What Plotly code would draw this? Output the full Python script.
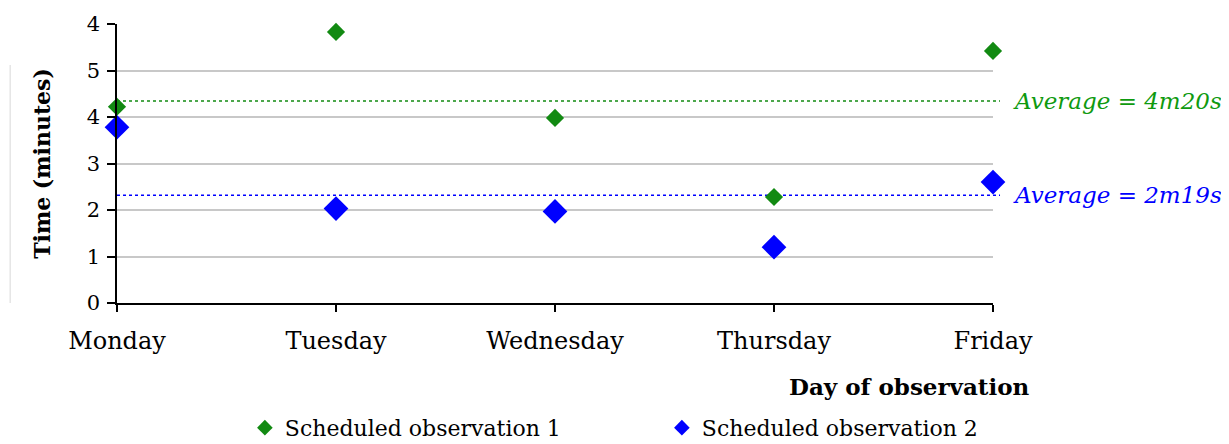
import plotly.graph_objects as go

days = ["Monday", "Tuesday", "Wednesday", "Thursday", "Friday"]
obs1 = [4.22, 5.83, 3.98, 2.28, 5.42]
obs2 = [3.78, 2.03, 1.97, 1.20, 2.60]
y_ticks = [0, 1, 2, 3, 4, 5, 6]
y_tick_labels = ["0", "1", "2", "3", "4", "5", "4"]
avg_labels = ["Average = 4m20s", "Average = 2m19s"]

GREEN = "#128a12"
GREEN_TXT = "#0f9a0f"
BLUE = "#0000ff"
FONT = "DejaVu Serif"

x = list(range(len(days)))
avg1 = sum(obs1) / len(obs1)
avg2 = sum(obs2) / len(obs2)

fig = go.Figure()
fig.add_trace(go.Scatter(x=x, y=obs1, mode="markers", name="Scheduled observation 1",
                         marker=dict(symbol="diamond", size=14, color=GREEN),
                         cliponaxis=False))
fig.add_trace(go.Scatter(x=x, y=obs2, mode="markers", name="Scheduled observation 2",
                         marker=dict(symbol="diamond", size=19, color=BLUE),
                         cliponaxis=False))

for avg, col, tcol, lab in [(avg1, GREEN, GREEN_TXT, avg_labels[0]), (avg2, BLUE, BLUE, avg_labels[1])]:
    fig.add_shape(type="line", xref="paper", yref="y", x0=0, x1=1.008, y0=avg, y1=avg,
                  line=dict(color=col, width=1.5, dash="dot"), layer="below")
    fig.add_annotation(xref="paper", yref="y", x=1.020, y=avg, text="<i>" + lab + "</i>",
                       showarrow=False, xanchor="left", yanchor="middle",
                       font=dict(family=FONT, size=23, color=tcol))

# faint vertical line at the left edge
fig.add_shape(type="line", xref="paper", yref="paper", x0=-0.122, x1=-0.122, y0=0.0, y1=0.853,
              line=dict(color="#d8d8d8", width=1))

fig.add_annotation(xref="paper", yref="paper", x=0.905, y=-0.30, text="<b>Day of observation</b>",
                   showarrow=False, xanchor="center", yanchor="middle",
                   font=dict(family=FONT, size=23, color="black"))

fig.update_layout(
    width=1221, height=436,
    margin=dict(l=109, r=236, t=16, b=141, autoexpand=False),
    paper_bgcolor="white", plot_bgcolor="white",
    font=dict(family=FONT, size=21, color="black"),
    showlegend=True,
    legend=dict(orientation="h", xref="container", yref="container",
                x=0.194, xanchor="left", y=0.037, yanchor="middle",
                font=dict(family=FONT, size=22), itemsizing="constant",
                traceorder="normal", entrywidth=372, entrywidthmode="pixels",
                itemwidth=30, bgcolor="rgba(0,0,0,0)"),
)
fig.update_xaxes(range=[0, 4], tickvals=x, ticktext=days, showgrid=False,
                 showline=True, linecolor="black", linewidth=1.5,
                 ticks="outside", ticklen=7, tickcolor="black", tickwidth=1.5,
                 zeroline=False, automargin=False, ticklabelstandoff=8,
                 tickfont=dict(size=24, family=FONT))
fig.update_yaxes(range=[0, 6], tickvals=y_ticks, ticktext=y_tick_labels,
                 showgrid=True, gridcolor="#c8c8c8", gridwidth=1.5,
                 showline=True, linecolor="black", linewidth=1.5,
                 ticks="outside", ticklen=8, tickcolor="black", tickwidth=1.5,
                 zeroline=False, automargin=False, ticklabelstandoff=3,
                 tickfont=dict(size=21, family=FONT),
                 title=dict(text="<b>Time (minutes)</b>", font=dict(size=22, family=FONT), standoff=30))

fig.write_html("out.html")
